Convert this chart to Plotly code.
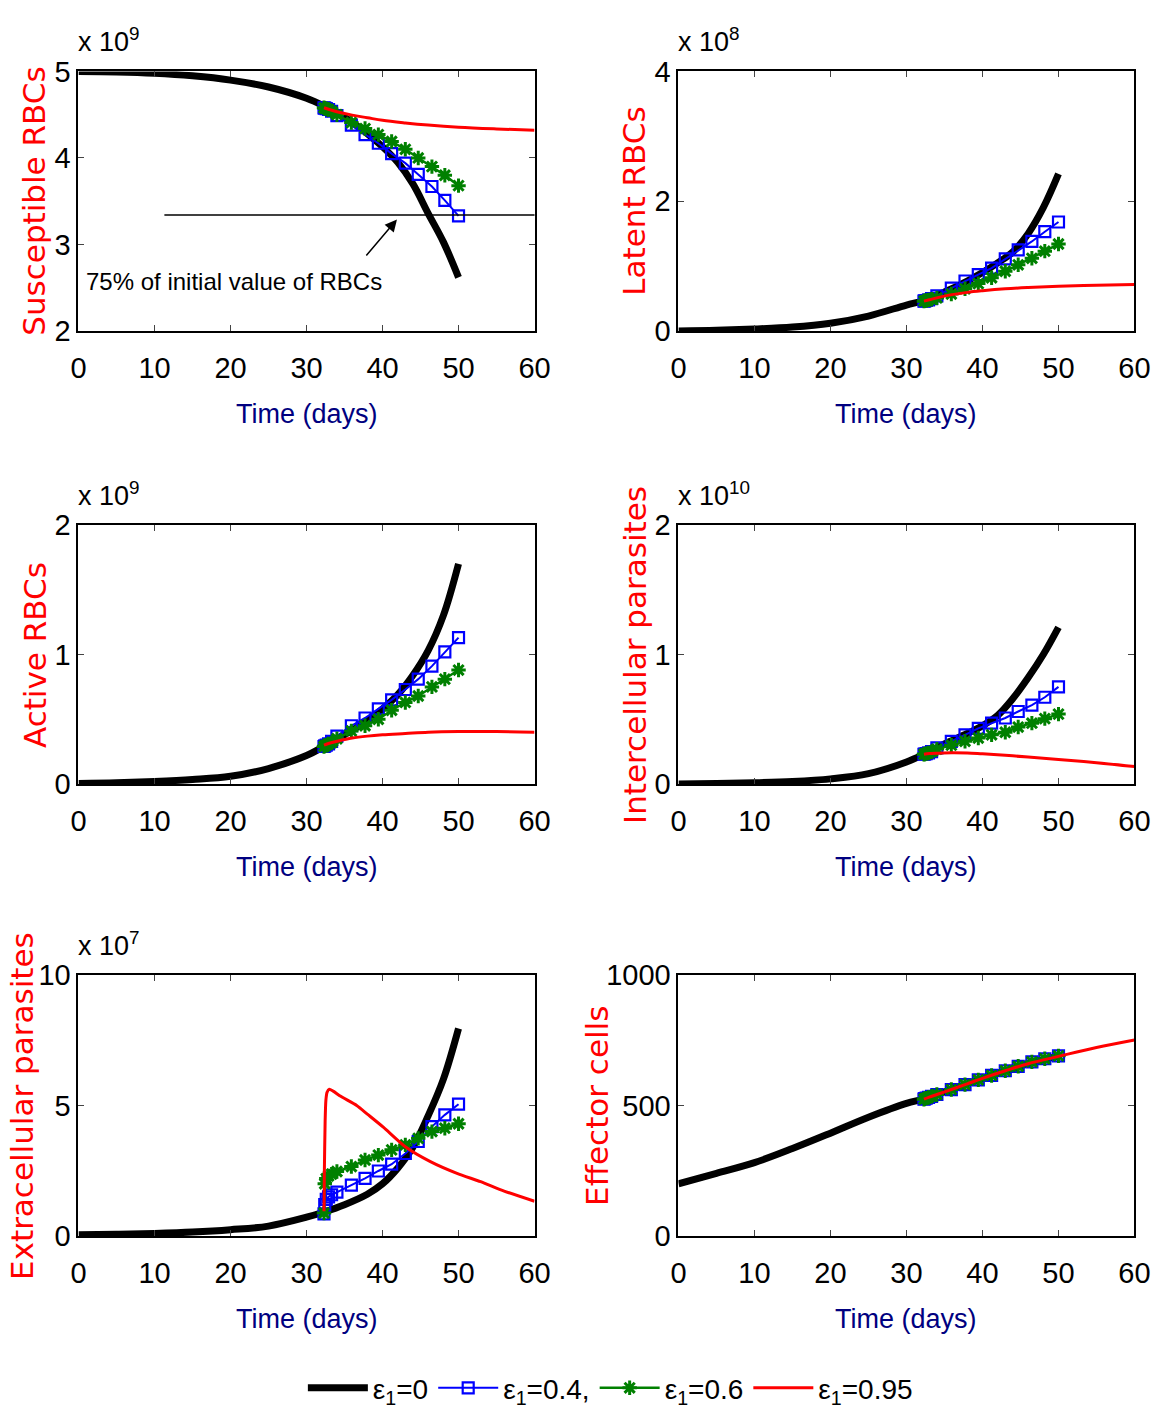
import plotly.graph_objects as go

# ---------------- data ----------------
t_black = [0, 5, 10, 15, 20, 25, 30, 32.3, 35, 38, 40, 42, 44, 46, 48, 50]
t_marked = [32.3, 32.4, 32.6, 32.9, 33.3, 34.0, 35.9, 37.7, 39.45, 41.2, 43.0, 44.7, 46.5, 48.2, 50.0]
t_red = [32.3, 33, 34, 36, 38, 40, 43, 46, 50, 55, 60]
t_red_extra = [32.3, 32.35, 32.45, 32.55, 32.7, 33.0, 33.5, 34.5, 36.6, 38.0, 40.1, 43.0, 46.3, 49.8, 52.9, 56.0, 60.0]

# Susceptible RBCs (x 1e9)
S_black = [5.0, 4.995, 4.98, 4.95, 4.9, 4.82, 4.69, 4.6, 4.47, 4.28, 4.13, 3.95, 3.70, 3.36, 3.03, 2.62]
S_blue = [4.58, 4.575, 4.57, 4.56, 4.54, 4.49, 4.38, 4.27, 4.17, 4.05, 3.94, 3.81, 3.67, 3.51, 3.33]
S_green = [4.58, 4.575, 4.57, 4.56, 4.54, 4.50, 4.41, 4.34, 4.27, 4.19, 4.10, 4.00, 3.90, 3.80, 3.68]
S_red = [4.58, 4.56, 4.535, 4.495, 4.465, 4.435, 4.405, 4.38, 4.355, 4.335, 4.32]

# Latent RBCs (x 1e8)
L_black = [0, 0.01, 0.03, 0.06, 0.12, 0.23, 0.40, 0.47, 0.60, 0.77, 0.90, 1.05, 1.22, 1.50, 1.90, 2.42]
L_blue = [0.46, 0.465, 0.47, 0.48, 0.50, 0.54, 0.66, 0.77, 0.87, 0.97, 1.11, 1.25, 1.38, 1.53, 1.68]
L_green = [0.46, 0.465, 0.47, 0.48, 0.49, 0.51, 0.57, 0.65, 0.73, 0.82, 0.92, 1.02, 1.12, 1.23, 1.34]
L_red = [0.46, 0.48, 0.51, 0.56, 0.595, 0.62, 0.65, 0.67, 0.69, 0.705, 0.715]

# Active RBCs (x 1e9)
A_black = [0.005, 0.01, 0.02, 0.035, 0.06, 0.12, 0.22, 0.29, 0.38, 0.49, 0.58, 0.69, 0.84, 1.03, 1.30, 1.70]
A_blue = [0.29, 0.295, 0.30, 0.31, 0.33, 0.37, 0.45, 0.51, 0.58, 0.65, 0.73, 0.81, 0.91, 1.02, 1.13]
A_green = [0.29, 0.295, 0.30, 0.31, 0.32, 0.35, 0.41, 0.45, 0.50, 0.57, 0.63, 0.68, 0.75, 0.81, 0.88]
A_red = [0.30, 0.315, 0.33, 0.355, 0.37, 0.38, 0.39, 0.40, 0.405, 0.405, 0.40]

# Intercellular parasites (x 1e10)
I_black = [0, 0.005, 0.01, 0.02, 0.04, 0.08, 0.17, 0.23, 0.31, 0.39, 0.45, 0.53, 0.66, 0.82, 1.0, 1.21]
I_blue = [0.23, 0.232, 0.235, 0.24, 0.25, 0.28, 0.33, 0.38, 0.43, 0.47, 0.51, 0.56, 0.61, 0.67, 0.75]
I_green = [0.23, 0.232, 0.235, 0.24, 0.25, 0.27, 0.30, 0.33, 0.355, 0.38, 0.40, 0.44, 0.47, 0.505, 0.54]
I_red = [0.23, 0.235, 0.238, 0.242, 0.24, 0.233, 0.222, 0.208, 0.19, 0.165, 0.135]

# Extracellular parasites (x 1e7)
E_black = [0.05, 0.07, 0.10, 0.15, 0.24, 0.38, 0.72, 0.92, 1.2, 1.6, 2.0, 2.6, 3.4, 4.6, 6.0, 7.95]
E_blue = [0.85, 1.2, 1.4, 1.5, 1.58, 1.68, 1.95, 2.21, 2.49, 2.75, 3.16, 3.62, 4.19, 4.64, 5.05]
E_green = [0.88, 2.0, 2.2, 2.3, 2.37, 2.47, 2.66, 2.91, 3.1, 3.3, 3.49, 3.74, 4.0, 4.13, 4.3]
E_red = [0.95, 2.5, 4.4, 5.2, 5.5, 5.62, 5.55, 5.35, 5.0, 4.67, 4.17, 3.42, 2.85, 2.4, 2.08, 1.72, 1.33]

# Effector cells
F_black = [200, 240, 281, 335, 394, 455, 508, 525, 552, 583, 603, 623, 642, 660, 675, 690]
F_blue = [524, 526, 528, 531, 535, 542, 561, 580, 598, 615, 633, 650, 667, 679, 690]
F_green = [524, 526, 528, 531, 535, 542, 561, 580, 598, 615, 633, 650, 667, 679, 690]
F_red = [524, 532, 542, 562, 583, 604, 633, 660, 688, 722, 751]

legend_names = ["ε<sub>1</sub>=0", "ε<sub>1</sub>=0.4,", "ε<sub>1</sub>=0.6", "ε<sub>1</sub>=0.95"]
y_titles = ["Susceptible RBCs", "Latent RBCs", "Active RBCs",
            "Intercellular parasites", "Extracellular parasites", "Effector cells"]
exponents = ["x 10<sup>9</sup>", "x 10<sup>8</sup>", "x 10<sup>9</sup>",
             "x 10<sup>10</sup>", "x 10<sup>7</sup>", None]
y_ranges = [[2, 5], [0, 4], [0, 2], [0, 2], [0, 10], [0, 1000]]
y_dticks = [1, 2, 1, 1, 5, 500]
x_title = "Time (days)"
note_text = "75% of initial value of RBCs"
ref_level = 3.34

panels = [
    (S_black, S_blue, S_green, t_red, S_red),
    (L_black, L_blue, L_green, t_red, L_red),
    (A_black, A_blue, A_green, t_red, A_red),
    (I_black, I_blue, I_green, t_red, I_red),
    (E_black, E_blue, E_green, t_red_extra, E_red),
    (F_black, F_blue, F_green, t_red, F_red),
]

# ---------------- layout helpers ----------------
NARROW = "Liberation Sans, Arial, sans-serif"
WIDE = "DejaVu Sans, Verdana, sans-serif"
col_dom = [(0.0679, 0.4624), (0.5869, 0.9814)]
row_dom = [(0.7661, 0.9495), (0.4459, 0.6290), (0.1265, 0.3110)]
ytitle_shift = [-44, -44, -44, -44, -56, -81]

fig = go.Figure()
layout = {}
annotations = []

for i, (yb, yblue, ygreen, tr, yr) in enumerate(panels):
    r, c = divmod(i, 2)
    n = i + 1
    xa = "x" if n == 1 else f"x{n}"
    ya = "y" if n == 1 else f"y{n}"
    show = (i == 0)
    fig.add_trace(go.Scatter(x=t_black, y=yb, mode="lines", name=legend_names[0],
                             line=dict(color="black", width=7, shape="spline"),
                             xaxis=xa, yaxis=ya, showlegend=show, legendgroup="a"))
    fig.add_trace(go.Scatter(x=t_marked, y=yblue, mode="lines+markers", name=legend_names[1],
                             line=dict(color="#0000ff", width=2),
                             marker=dict(symbol="square-open", size=11, color="#0000ff",
                                         line=dict(width=2.2, color="#0000ff")),
                             xaxis=xa, yaxis=ya, showlegend=show, legendgroup="b"))
    fig.add_trace(go.Scatter(x=t_marked, y=ygreen, mode="lines+markers", name=legend_names[2],
                             line=dict(color="#008000", width=2.5),
                             marker=dict(symbol="asterisk-open", size=12, color="#008000",
                                         line=dict(width=3, color="#008000")),
                             xaxis=xa, yaxis=ya, showlegend=show, legendgroup="c"))
    fig.add_trace(go.Scatter(x=tr, y=yr, mode="lines", name=legend_names[3],
                             line=dict(color="#ff0000", width=3, shape="spline",
                                       smoothing=0.6 if i == 4 else 1.0),
                             xaxis=xa, yaxis=ya, showlegend=show, legendgroup="d"))

    axis_common = dict(showline=True, linecolor="black", linewidth=2, mirror="ticks",
                       ticks="inside", ticklen=6, tickcolor="#444", tickwidth=1,
                       showgrid=False, zeroline=False, automargin=False,
                       tickfont=dict(family=NARROW, size=29, color="black"))
    layout["xaxis" if n == 1 else f"xaxis{n}"] = dict(
        domain=list(col_dom[c]), anchor=ya, range=[0, 60], dtick=10, tick0=0,
        ticklabelstandoff=10, **axis_common)
    layout["yaxis" if n == 1 else f"yaxis{n}"] = dict(
        domain=list(row_dom[r]), anchor=xa, range=y_ranges[i], dtick=y_dticks[i],
        ticklabelstandoff=0, **axis_common)

    xd = f"{xa} domain"
    yd = f"{ya} domain"
    annotations.append(dict(text=y_titles[i], xref=xd, yref=yd, x=0, y=0.5,
                            xanchor="center", yanchor="middle", xshift=ytitle_shift[i],
                            textangle=-90, showarrow=False,
                            font=dict(family=WIDE, size=31, color="#ff0000")))
    annotations.append(dict(text=x_title, xref=xd, yref=yd, x=0.5, y=0,
                            xanchor="center", yanchor="top", yshift=-66,
                            showarrow=False,
                            font=dict(family=NARROW, size=27, color="#000080")))
    if exponents[i]:
        annotations.append(dict(text=exponents[i], xref=xd, yref=yd, x=0, y=1,
                                xanchor="left", yanchor="bottom", yshift=12, xshift=-2,
                                showarrow=False,
                                font=dict(family=NARROW, size=27, color="black")))

annotations.append(dict(text=note_text, xref="x", yref="y", x=0.7, y=2.57,
                        xanchor="left", yanchor="middle", showarrow=False,
                        font=dict(family=NARROW, size=24, color="black")))
annotations.append(dict(text="", xref="x", yref="y", x=41.9, y=3.29,
                        axref="x", ayref="y", ax=37.7, ay=2.855,
                        showarrow=True, arrowhead=2, arrowsize=1.6, arrowwidth=1.5,
                        arrowcolor="black"))

fig.add_shape(type="line", xref="x", yref="y", x0=11.3, x1=61.4, y0=ref_level, y1=ref_level,
              line=dict(color="black", width=1.5))

fig.update_layout(
    width=1156, height=1415, autosize=False,
    margin=dict(l=0, r=0, t=0, b=0),
    paper_bgcolor="white", plot_bgcolor="white",
    showlegend=True,
    legend=dict(orientation="h", x=0.262, y=0.019, xanchor="left", yanchor="middle",
                font=dict(family=NARROW, size=28, color="black"),
                itemwidth=60, bgcolor="rgba(0,0,0,0)", tracegroupgap=0),
    annotations=annotations,
    **layout,
)

fig.write_html("out.html")
